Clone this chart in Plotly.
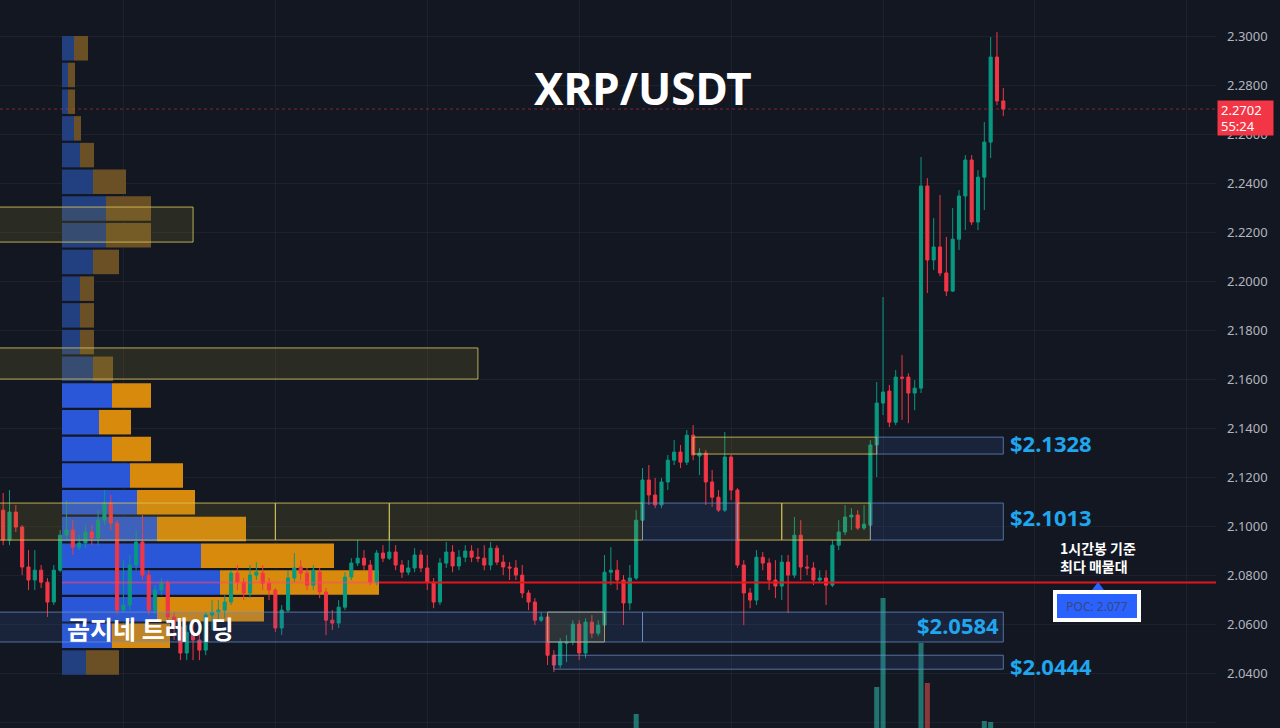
import plotly.graph_objects as go

# ---------------- candle data (1h XRP/USDT) ----------------
opens = [2.0861,2.1065,2.0943,2.1057,2.0996,2.0833,2.0780,2.0820,2.0771,2.0690,
         2.0820,2.0963,2.0984,2.0914,2.0931,2.0976,2.0951,2.1024,2.1094,2.1012,
         2.0657,2.0678,2.0841,2.0935,2.0800,2.0657,2.0739,2.0767,2.0629,2.0588,
         2.0482,2.0567,2.0535,2.0494,2.0637,2.0649,2.0657,2.0690,2.0808,2.0771,
         2.0727,2.0800,2.0808,2.0767,2.0739,2.0584,2.0657,2.0788,2.0833,2.0808,
         2.0759,2.0812,2.0731,2.0616,2.0604,2.0669,2.0792,2.0849,2.0869,2.0841,
         2.0771,2.0890,2.0869,2.0894,2.0841,2.0812,2.0829,2.0882,2.0829,2.0771,
         2.0690,2.0849,2.0894,2.0837,2.0873,2.0898,2.0873,2.0869,2.0841,2.0910,
         2.0853,2.0833,2.0829,2.0800,2.0727,2.0690,2.0616,2.0629,2.0473,2.0433,
         2.0522,2.0527,2.0600,2.0482,2.0608,2.0563,2.0596,2.0812,2.0820,2.0780,
         2.0686,2.0788,2.1024,2.1188,2.1127,2.1086,2.1180,2.1269,2.1302,2.1261,
         2.1371,2.1286,2.1298,2.1180,2.1118,2.1065,2.1282,2.1147,2.0841,2.0727,
         2.0698,2.0873,2.0849,2.0780,2.0755,2.0853,2.0800,2.0963,2.0833,2.0829,
         2.0780,2.0788,2.0759,2.0922,2.0976,2.1037,2.1045,2.0992,2.1004,2.1331,
         2.1502,2.1551,2.1424,2.1608,2.1608,2.1543,2.1563,2.2388,2.2086,2.2139,
         2.2033,2.1959,2.2171,2.2347,2.2494,2.2241,2.2424,2.2567,2.2914,2.2735]
highs = [2.1147,2.1135,2.1147,2.1086,2.1004,2.0902,2.0902,2.0841,2.0788,2.0841,
         2.0984,2.1106,2.1024,2.0963,2.1004,2.1004,2.1065,2.1147,2.1127,2.1024,
         2.0861,2.0882,2.0984,2.1045,2.0820,2.0759,2.0788,2.0780,2.0649,2.0616,
         2.0596,2.0616,2.0584,2.0649,2.0698,2.0698,2.0718,2.0820,2.0841,2.0788,
         2.0841,2.0853,2.0841,2.0788,2.0747,2.0678,2.0820,2.0890,2.0861,2.0829,
         2.0841,2.0829,2.0747,2.0657,2.0698,2.0812,2.0869,2.0943,2.0902,2.0861,
         2.0902,2.0922,2.0976,2.0922,2.0861,2.0861,2.0910,2.0902,2.0882,2.0788,
         2.0869,2.0935,2.0922,2.0902,2.0922,2.0922,2.0910,2.0922,2.0935,2.0922,
         2.0882,2.0853,2.0861,2.0841,2.0739,2.0706,2.0649,2.0637,2.0494,2.0543,
         2.0555,2.0616,2.0616,2.0624,2.0637,2.0616,2.0882,2.0914,2.0861,2.0800,
         2.0841,2.1065,2.1237,2.1249,2.1196,2.1196,2.1290,2.1351,2.1331,2.1392,
         2.1412,2.1318,2.1310,2.1229,2.1147,2.1384,2.1290,2.1155,2.0861,2.0747,
         2.0902,2.0894,2.0869,2.0861,2.0882,2.0882,2.1037,2.1024,2.0882,2.0853,
         2.0820,2.0820,2.0943,2.1024,2.1086,2.1073,2.1065,2.1086,2.1351,2.1588,
         2.1935,2.1576,2.1637,2.1698,2.1624,2.1596,2.2506,2.2420,2.2257,2.2351,
         2.2180,2.2298,2.2371,2.2514,2.2514,2.2453,2.2649,2.2996,2.3016,2.2788]
lows = [2.0841,2.0922,2.0922,2.0976,2.0800,2.0739,2.0739,2.0747,2.0629,2.0678,
        2.0812,2.0943,2.0882,2.0902,2.0910,2.0922,2.0922,2.1004,2.0984,2.0637,
        2.0649,2.0657,2.0820,2.0780,2.0637,2.0637,2.0718,2.0596,2.0535,2.0453,
        2.0453,2.0453,2.0453,2.0473,2.0576,2.0616,2.0624,2.0678,2.0739,2.0698,
        2.0706,2.0780,2.0739,2.0698,2.0567,2.0555,2.0649,2.0771,2.0780,2.0739,
        2.0739,2.0706,2.0555,2.0576,2.0584,2.0657,2.0780,2.0837,2.0820,2.0759,
        2.0759,2.0853,2.0861,2.0820,2.0788,2.0800,2.0812,2.0812,2.0739,2.0665,
        2.0678,2.0829,2.0812,2.0820,2.0853,2.0853,2.0853,2.0820,2.0820,2.0841,
        2.0800,2.0780,2.0780,2.0706,2.0657,2.0596,2.0608,2.0433,2.0404,2.0420,
        2.0445,2.0514,2.0453,2.0461,2.0543,2.0551,2.0584,2.0759,2.0739,2.0596,
        2.0657,2.0780,2.1004,2.1086,2.1073,2.1073,2.1147,2.1249,2.1237,2.1249,
        2.1269,2.1208,2.1086,2.1078,2.1057,2.1057,2.1106,2.0829,2.0596,2.0665,
        2.0678,2.0820,2.0739,2.0706,2.0698,2.0645,2.0788,2.0780,2.0800,2.0759,
        2.0771,2.0678,2.0751,2.0902,2.0963,2.0984,2.0984,2.0984,2.0996,2.1200,
        2.1453,2.1404,2.1412,2.1433,2.1420,2.1473,2.1543,2.1951,2.2045,2.2020,
        2.1939,2.1955,2.2127,2.2208,2.2229,2.2208,2.2290,2.2502,2.2718,2.2673]
closes = [2.1065,2.0943,2.1057,2.0996,2.0833,2.0780,2.0820,2.0771,2.0690,2.0820,
          2.0963,2.0984,2.0914,2.0931,2.0976,2.0951,2.1024,2.1094,2.1012,2.0657,
          2.0678,2.0841,2.0935,2.0800,2.0657,2.0739,2.0767,2.0629,2.0588,2.0482,
          2.0567,2.0535,2.0494,2.0637,2.0649,2.0657,2.0690,2.0808,2.0771,2.0727,
          2.0800,2.0812,2.0767,2.0739,2.0584,2.0657,2.0788,2.0829,2.0808,2.0759,
          2.0820,2.0731,2.0616,2.0604,2.0669,2.0792,2.0849,2.0869,2.0841,2.0771,
          2.0890,2.0869,2.0894,2.0841,2.0812,2.0829,2.0882,2.0829,2.0771,2.0690,
          2.0849,2.0894,2.0837,2.0873,2.0898,2.0873,2.0869,2.0841,2.0910,2.0853,
          2.0833,2.0829,2.0800,2.0727,2.0690,2.0616,2.0629,2.0473,2.0433,2.0527,
          2.0527,2.0600,2.0482,2.0608,2.0563,2.0596,2.0812,2.0820,2.0780,2.0686,
          2.0788,2.1024,2.1188,2.1127,2.1086,2.1180,2.1269,2.1302,2.1261,2.1371,
          2.1290,2.1298,2.1180,2.1118,2.1065,2.1282,2.1147,2.0841,2.0727,2.0698,
          2.0873,2.0849,2.0780,2.0755,2.0853,2.0800,2.0963,2.0833,2.0829,2.0780,
          2.0788,2.0759,2.0922,2.0976,2.1037,2.1045,2.0992,2.1008,2.1331,2.1502,
          2.1547,2.1424,2.1608,2.1604,2.1543,2.1563,2.2388,2.2086,2.2139,2.2033,
          2.1959,2.2171,2.2347,2.2494,2.2241,2.2424,2.2567,2.2914,2.2735,2.2702]
bar_index = list(range(len(closes)))

# ---------------- volume (only bars tall enough to show, M XRP) ----------------
vol_index = [101, 139, 140, 146, 147, 156, 157]
vol_value = [66, 93, 182, 137, 97, 59, 58]

# ---------------- volume profile ----------------
vp_price = [2.2950,2.2841,2.2732,2.2623,2.2514,2.2405,2.2296,2.2187,2.2078,2.1969,
            2.1860,2.1751,2.1642,2.1533,2.1424,2.1315,2.1206,2.1097,2.0988,2.0879,
            2.0770,2.0661,2.0552,2.0443]
vp_buy = [1.2,0.6,0.6,1.2,1.8,3.1,4.4,4.4,3.1,1.8,1.8,1.8,3.1,5.0,3.7,5.0,6.8,7.5,
          9.5,13.9,15.8,9.5,5.0,2.4]
vp_sell = [1.4,0.7,0.7,0.7,1.4,3.3,4.5,4.5,2.6,1.4,1.4,1.4,2.0,3.9,3.2,3.9,5.3,5.8,
           8.9,13.3,15.9,10.7,5.8,3.3]
value_area = [False]*13 + [True]*10 + [False]
poc_price = 2.077
poc_label = "POC: 2.077"

# ---------------- zones (drawn boxes) ----------------
zone_start = [-3, -3, -3, 44, 62, 117, 124, 110, 87,
              102, 138, 139, -3, 102, 88]
zone_end   = [31, 76, 44, 62, 102, 124, 138, 139, 96,
              117, 159, 159, 102, 159, 159]
zone_low   = [2.2159, 2.1600, 2.0943, 2.0943, 2.0943, 2.0943, 2.0943, 2.1294, 2.0527,
              2.0943, 2.0943, 2.1294, 2.0527, 2.0527, 2.0416]
zone_high  = [2.2302, 2.1727, 2.1094, 2.1094, 2.1094, 2.1094, 2.1094, 2.1363, 2.0649,
              2.1094, 2.1094, 2.1363, 2.0649, 2.0649, 2.0473]
zone_kind  = ["y"]*9 + ["b"]*6

level_prices = [2.1328, 2.1013, 2.0584, 2.0444]
level_inside = [False, False, True, False]
level_shift = [3, 6, 3, -4]

last_price = 2.2702
countdown = "55:24"

y_ticks = [2.02, 2.04, 2.06, 2.08, 2.10, 2.12, 2.14, 2.16, 2.18, 2.20,
           2.22, 2.24, 2.26, 2.28, 2.30]
day_lines = [20, 44, 68, 92, 116, 140, 164, 188]

BG = "#131722"
UP = "#089981"
DN = "#f23645"
GRID = "rgba(255,255,255,0.045)"

fig = go.Figure()

buy_col = ["#2a57d8" if v else "#223f80" for v in value_area]
sell_col = ["#d88a0c" if v else "#6c5025" for v in value_area]
fig.add_trace(go.Bar(y=vp_price, x=vp_buy, orientation="h", xaxis="x2", yaxis="y",
                     width=0.0100, marker=dict(color=buy_col, line_width=0),
                     hoverinfo="skip", showlegend=False))
fig.add_trace(go.Bar(y=vp_price, x=vp_sell, base=vp_buy, orientation="h", xaxis="x2",
                     yaxis="y", width=0.0100, marker=dict(color=sell_col, line_width=0),
                     hoverinfo="skip", showlegend=False))

vol_col = ["rgba(38,166,154,0.65)" if closes[i] >= opens[i] else "rgba(239,83,80,0.55)"
           for i in vol_index]
fig.add_trace(go.Bar(x=vol_index, y=vol_value, xaxis="x", yaxis="y3", width=0.8,
                     marker=dict(color=vol_col, line_width=0), hoverinfo="skip",
                     showlegend=False))

fig.add_trace(go.Candlestick(
    x=bar_index, open=opens, high=highs, low=lows, close=closes,
    xaxis="x", yaxis="y",
    increasing=dict(line=dict(color=UP, width=1), fillcolor=UP),
    decreasing=dict(line=dict(color=DN, width=1), fillcolor=DN),
    whiskerwidth=0, showlegend=False, hoverinfo="skip"))

shapes = []
for x0, x1, lo, hi, k in zip(zone_start, zone_end, zone_low, zone_high, zone_kind):
    if k == "y":
        fc, lc = "rgba(165,150,40,0.16)", "rgba(214,196,92,0.85)"
    else:
        fc, lc = "rgba(60,100,180,0.16)", "rgba(110,150,210,0.7)"
    shapes.append(dict(type="rect", xref="x", yref="y", x0=x0, x1=x1, y0=lo, y1=hi,
                       fillcolor=fc, line=dict(color=lc, width=1), layer="above"))

poc_total = vp_buy[20] + vp_sell[20]
shapes.append(dict(type="line", xref="x2", yref="y", x0=0, x1=poc_total,
                   y0=poc_price, y1=poc_price,
                   line=dict(color="rgba(255,70,110,0.5)", width=2), layer="above"))
shapes.append(dict(type="line", xref="x2", yref="y", x0=poc_total, x1=115.4,
                   y0=poc_price, y1=poc_price,
                   line=dict(color="#e3141c", width=2), layer="above"))
shapes.append(dict(type="line", xref="paper", yref="y", x0=0, x1=1,
                   y0=last_price, y1=last_price,
                   line=dict(color="rgba(242,54,69,0.5)", width=1, dash="dot"),
                   layer="above"))
# callout pointer of POC label
shapes.append(dict(type="path", xref="paper", yref="paper",
                   path="M 0.8980 0.1896 L 0.9030 0.2005 L 0.9079 0.1896 Z",
                   fillcolor="#2962ff", line=dict(width=0), layer="above"))

annotations = []
annotations.append(dict(xref="paper", yref="paper", x=0.5288, y=0.879,
                        text="<b>XRP/USDT</b>", showarrow=False,
                        font=dict(family="Noto Sans", size=44, color="white"),
                        xanchor="center", yanchor="middle"))
annotations.append(dict(xref="paper", yref="paper", x=0.1234, y=0.1374,
                        text="<b>곰지네 트레이딩</b>", showarrow=False,
                        font=dict(family="Noto Sans CJK KR", size=25, color="white"),
                        xanchor="center", yanchor="middle"))
for p, inside, sh in zip(level_prices, level_inside, level_shift):
    annotations.append(dict(xref="x", yref="y", x=158.6 if inside else 159.7, y=p,
                            yshift=sh,
                            text="<b>$%.4f</b>" % p, showarrow=False,
                            xanchor="right" if inside else "left", yanchor="middle",
                            font=dict(family="Noto Sans", size=22, color="#20a6ee")))
annotations.append(dict(xref="paper", yref="paper", x=0.903, y=0.2349,
                        text="<b>1시간봉 기준<br>최다 매물대</b>", showarrow=False,
                        font=dict(family="Noto Sans CJK KR", size=14, color="white"),
                        xanchor="center", yanchor="middle", align="left"))
annotations.append(dict(xref="paper", yref="paper", x=0.902, y=0.1676,
                        text=poc_label, showarrow=False,
                        font=dict(family="Noto Sans", size=12, color="#3b4775"),
                        bgcolor="#2962ff", bordercolor="white", borderwidth=4,
                        borderpad=3, width=74, height=18,
                        xanchor="center", yanchor="middle"))
annotations.append(dict(xref="paper", yref="y", x=1.0, y=last_price, xshift=1, yshift=9,
                        text="%.4f<br>%s" % (last_price, countdown), showarrow=False,
                        font=dict(family="Noto Sans", size=13, color="white"),
                        bgcolor=DN, borderpad=3, width=49, height=28, align="left",
                        xanchor="left", yanchor="top"))

fig.update_layout(
    width=1280, height=728,
    margin=dict(l=0, r=64, t=0, b=0),
    paper_bgcolor=BG, plot_bgcolor=BG,
    barmode="overlay",
    showlegend=False,
    xaxis2=dict(range=[-6.2, 115.4], visible=False, fixedrange=True),
    xaxis=dict(overlaying="x2", range=[0.5, 192.6], showticklabels=False,
               tickvals=day_lines, showgrid=True, gridcolor=GRID, zeroline=False,
               ticks="", rangeslider=dict(visible=False), showline=False),
    yaxis=dict(side="right", anchor="x2", range=[2.0176, 2.3147], tickvals=y_ticks,
               tickformat=".4f", showgrid=True, gridcolor=GRID, zeroline=False,
               ticks="", ticklabelstandoff=10, showline=False,
               tickfont=dict(family="Noto Sans", size=13, color="#b2b5be")),
    yaxis3=dict(overlaying="y", anchor="x", range=[52, 780], visible=False),
    shapes=shapes, annotations=annotations,
)

fig.write_html("out.html",
               config=dict(displayModeBar=False),
               post_script="document.body.style.margin='0';"
                           "document.body.style.background='#131722';"
                           "document.body.style.overflow='hidden';")
